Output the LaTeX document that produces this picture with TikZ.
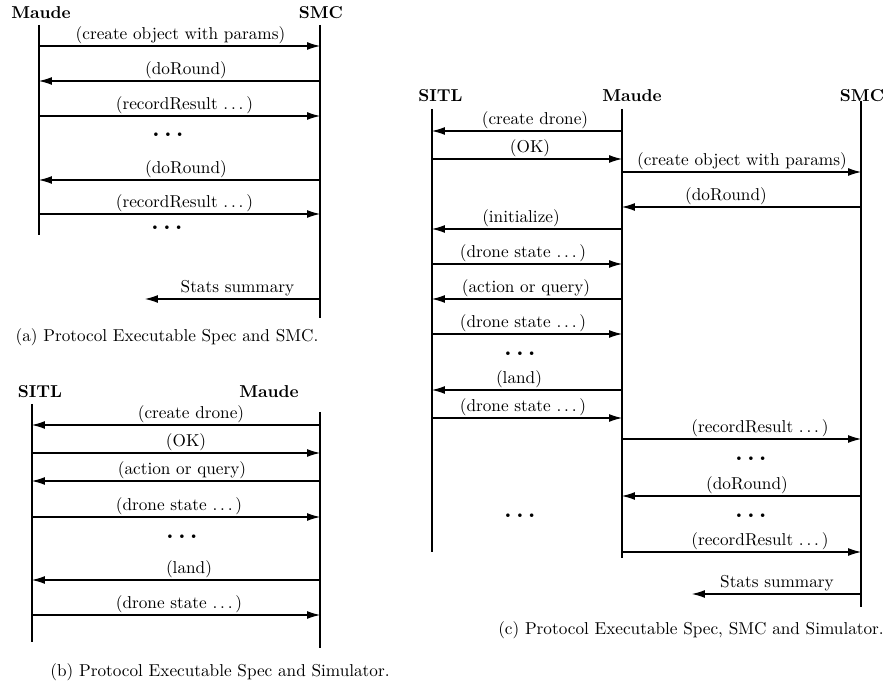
\documentclass[tikz,border=0pt]{standalone}
\usepackage{tikz}
\usetikzlibrary{arrows.meta}
\newcommand{\spdots}{.\kern.1667em.\kern.1667em.\kern.1667em}

\begin{document}
\begin{tikzpicture}[x=0.581pt,y=-0.581pt,
        actor/.style={font=\bfseries},
        life/.style={line width=0.6pt},
        msg/.style={line width=0.6pt,-{Latex[length=7.5pt,width=4.6pt]}},
        lbl/.style={anchor=base,inner sep=0pt},
        gap/.style={font=\Large\bfseries}]
  \useasboundingbox (0,0) rectangle (886,685);
  % (a)
  \node[actor] (aMaude) at (41,13) {Maude};
  \node[actor] (aSMC) at (321,13) {SMC};
  \foreach \n/\x/\t/\b in {aM/39/25/235,aS/320/25/318}{
    \coordinate (\n top) at (\x,\t);
    \coordinate (\n bot) at (\x,\b);
    \draw[life] (\n top) -- (\n bot);
  }
  \foreach \i/\f/\t/\y/\lx/\txt in {1/39/320/46/180.5/{(create object with params)},
      2/320/39/81/186/{(doRound)},3/39/320/116/184.5/{(recordResult \spdots)},
      4/320/39/180/186/{(doRound)},5/39/320/214/184.5/{(recordResult \spdots)},
      6/320/145/299/237.5/{Stats summary}}{
    \coordinate (a\i s) at (\f,\y);
    \coordinate (a\i e) at (\t,\y);
    \draw[msg] (a\i s) -- (a\i e);
    \node[lbl] (a\i l) at (\lx,\y-6) {\txt};
  }
  \node[gap] (aDots1) at (170,135) {\spdots};
  \node[gap] (aDots2) at (169,228) {\spdots};
  \node (aCap) at (167,337) {(a) Protocol Executable Spec and SMC.};
  % (b)
  \node[actor] (bSITL) at (40,392) {SITL};
  \node[actor] (bMaude) at (269,392) {Maude};
  \foreach \n/\x/\t/\b in {bS/32/404/642,bM/320/412/648}{
    \coordinate (\n top) at (\x,\t);
    \coordinate (\n bot) at (\x,\b);
    \draw[life] (\n top) -- (\n bot);
  }
  \foreach \i/\f/\t/\y/\lx/\txt in {1/320/32/425/191/{(create drone)},
      2/32/320/453/186/{(OK)},3/320/32/481/182/{(action or query)},
      4/32/320/517/179/{(drone state \spdots)},5/320/32/580/189/{(land)},
      6/32/320/615/179/{(drone state \spdots)}}{
    \coordinate (b\i s) at (\f,\y);
    \coordinate (b\i e) at (\t,\y);
    \draw[msg] (b\i s) -- (b\i e);
    \node[lbl] (b\i l) at (\lx,\y-6) {\txt};
  }
  \node[gap] (bDots) at (184,537) {\spdots};
  \node (bCap) at (220,672) {(b) Protocol Executable Spec and Simulator.};
  % (c)
  \node[actor] (cSITL) at (440.5,96) {SITL};
  \node[actor] (cMaude) at (632,96) {Maude};
  \node[actor] (cSMC) at (862,96) {SMC};
  \foreach \n/\x/\t/\b in {cT/432/109/552,cM/622/109/558,cS/861/101/607}{
    \coordinate (\n top) at (\x,\t);
    \coordinate (\n bot) at (\x,\b);
    \draw[life] (\n top) -- (\n bot);
  }
  \foreach \i/\f/\t/\y/\lx/\txt in {1/622/432/131/535/{(create drone)},
      2/432/622/159/530/{(OK)},3/622/861/172/742/{(create object with params)},
      4/861/622/207/726/{(doRound)},5/622/432/229/521/{(initialize)},
      6/432/622/264/523/{(drone state \spdots)},7/622/432/299/526/{(action or query)},
      8/432/622/334/523/{(drone state \spdots)},9/622/432/390/519/{(land)},
      10/432/622/418/523/{(drone state \spdots)},11/622/861/439/760/{(recordResult \spdots)},
      12/861/622/496/747/{(doRound)},13/622/861/552/760/{(recordResult \spdots)},
      14/861/692/594/777/{Stats summary}}{
    \coordinate (c\i s) at (\f,\y);
    \coordinate (c\i e) at (\t,\y);
    \draw[msg] (c\i s) -- (c\i e);
    \node[lbl] (c\i l) at (\lx,\y-6) {\txt};
  }
  \node[gap] (cDots1) at (522,354) {\spdots};
  \node[gap] (cDots2) at (753,459) {\spdots};
  \node[gap] (cDots3) at (753,516) {\spdots};
  \node[gap] (cDots4) at (522,516) {\spdots};
  \node (cCap) at (691,630) {(c) Protocol Executable Spec, SMC and Simulator.};
\end{tikzpicture}
\end{document}
